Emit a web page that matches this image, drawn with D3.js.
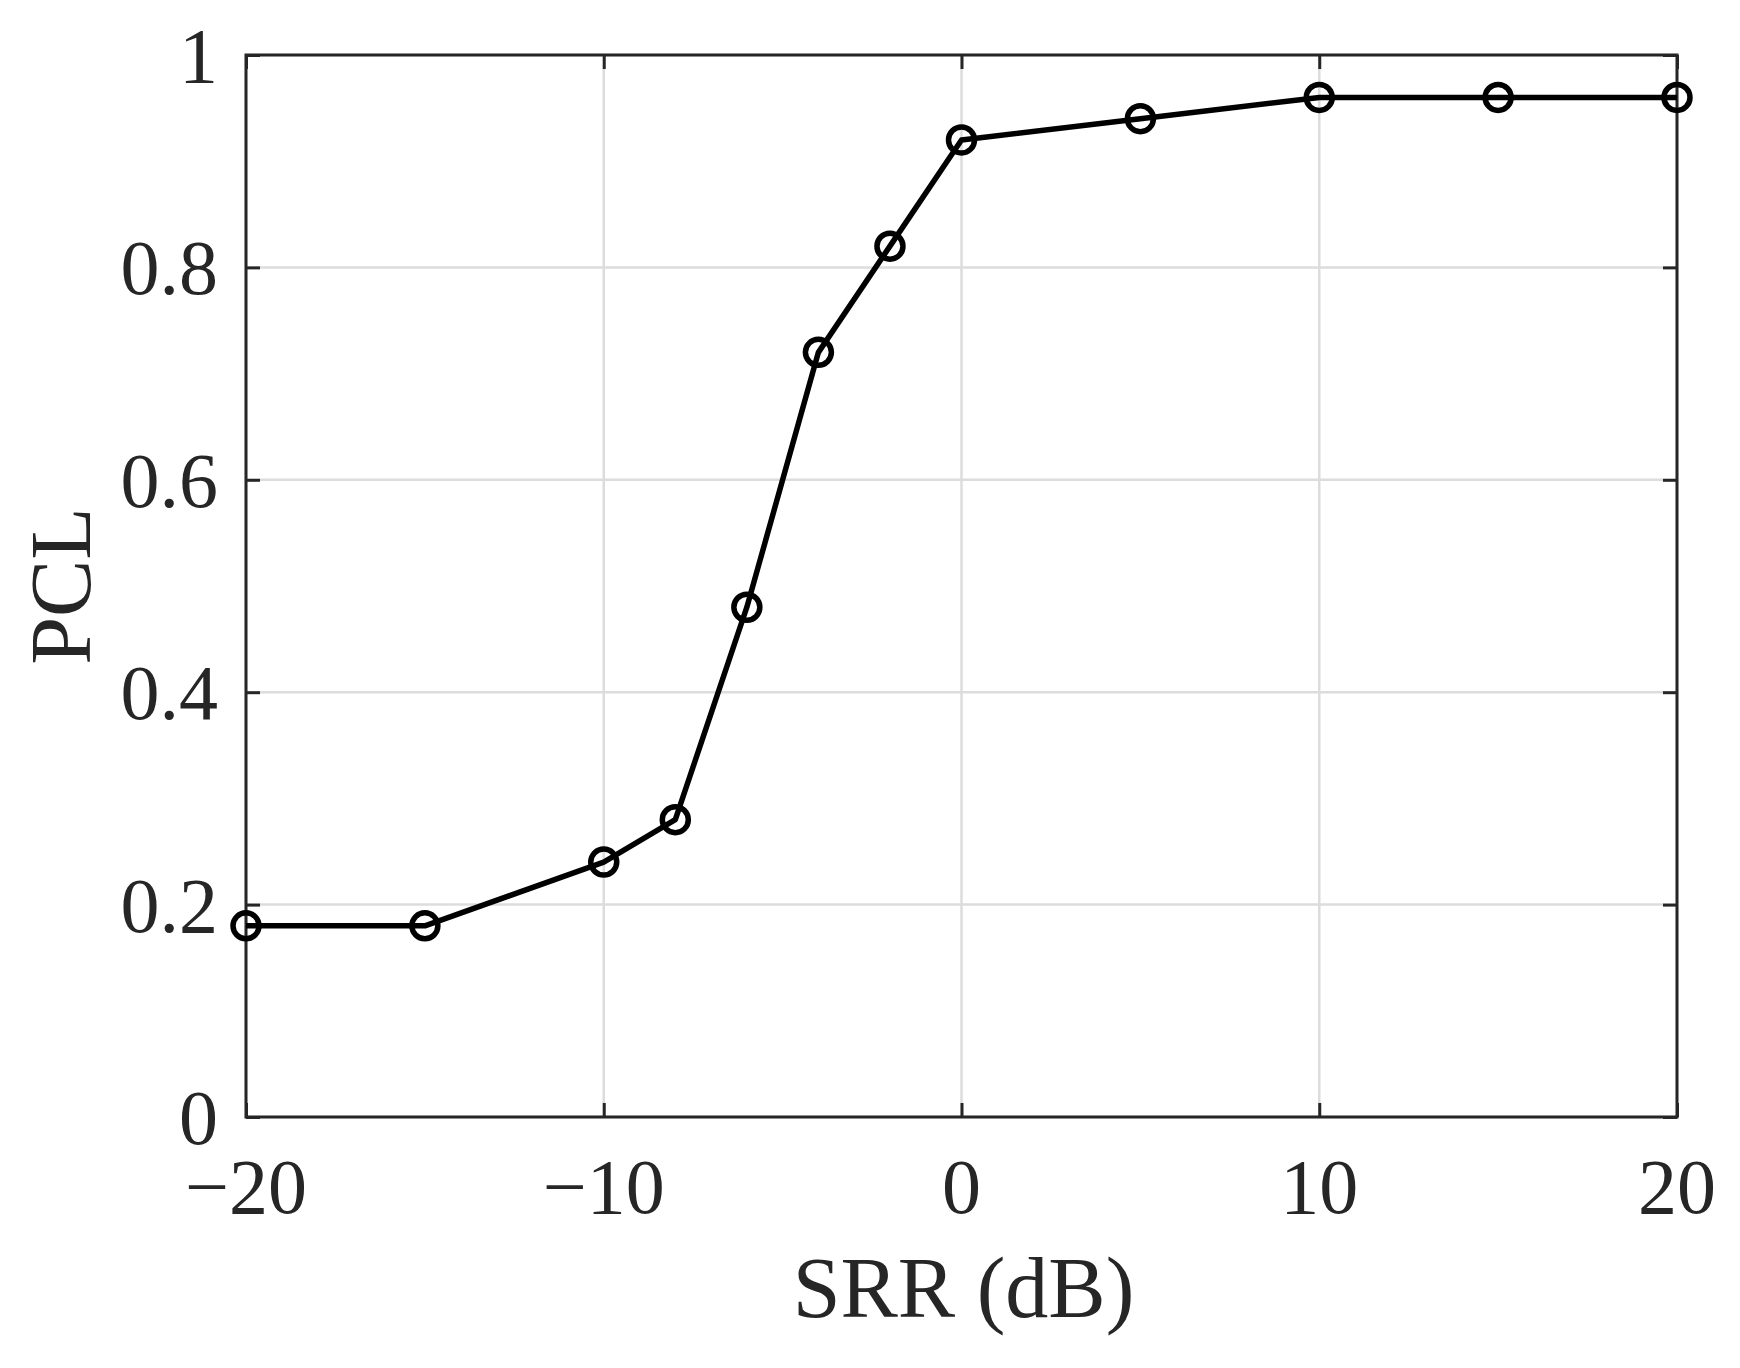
<!DOCTYPE html>
<html><head><meta charset="utf-8">
<script src="https://cdn.jsdelivr.net/npm/d3@7"></script>
<style>html,body{margin:0;padding:0;background:#fff;}</style>
</head><body>
<script>
const srr = [-20, -15, -10, -8, -6, -4, -2, 0, 5, 10, 15, 20];
const pcl = [0.18, 0.18, 0.24, 0.28, 0.48, 0.72, 0.82, 0.92, 0.94, 0.96, 0.96, 0.96];
const xTicks = [-20, -10, 0, 10, 20];
const xTickLabels = ["\u221220", "\u221210", "0", "10", "20"];
const yTicks = [0, 0.2, 0.4, 0.6, 0.8, 1];
const yTickLabels = ["0", "0.2", "0.4", "0.6", "0.8", "1"];
const xLabel = "SRR (dB)";
const yLabel = "PCL";

const W = 1740, H = 1368;
const L = 246, R = 1677, T = 55, B = 1117;
const axisColor = "#262626";
const font = "'Liberation Serif','Times New Roman',serif";

const svg = d3.select("body").append("svg").attr("width", W).attr("height", H);
const x = d3.scaleLinear().domain([-20, 20]).range([L, R]);
const y = d3.scaleLinear().domain([0, 1]).range([B, T]);

// grid
const g = svg.append("g");
g.selectAll(".gx").data(xTicks).join("line")
  .attr("x1", d => x(d)).attr("x2", d => x(d)).attr("y1", T).attr("y2", B)
  .attr("stroke", "#dcdcdc").attr("stroke-width", 2.5);
g.selectAll(".gy").data(yTicks).join("line")
  .attr("y1", d => y(d)).attr("y2", d => y(d)).attr("x1", L).attr("x2", R)
  .attr("stroke", "#dcdcdc").attr("stroke-width", 2.5);

// axes with inward ticks
const tl = 14;
const axB = d3.axisBottom(x).tickValues(xTicks).tickSize(-tl).tickFormat("");
const axT = d3.axisTop(x).tickValues(xTicks).tickSize(-tl).tickFormat("");
const axL = d3.axisLeft(y).tickValues(yTicks).tickSize(-tl).tickFormat("");
const axR = d3.axisRight(y).tickValues(yTicks).tickSize(-tl).tickFormat("");
[[axB, `translate(0,${B})`], [axT, `translate(0,${T})`], [axL, `translate(${L},0)`], [axR, `translate(${R},0)`]].forEach(([ax, tr]) => {
  const a = svg.append("g").attr("transform", tr).call(ax);
  a.select(".domain").remove();
  a.selectAll("line").attr("stroke", axisColor).attr("stroke-width", 3);
});
svg.append("rect").attr("x", L).attr("y", T).attr("width", R - L).attr("height", B - T)
  .attr("fill", "none").attr("stroke", axisColor).attr("stroke-width", 3);

// tick labels
svg.selectAll(".xtl").data(xTicks).join("text")
  .attr("x", d => x(d)).attr("y", 1213).attr("text-anchor", "middle")
  .attr("font-family", font).attr("font-size", 78).attr("fill", axisColor)
  .text((d, i) => xTickLabels[i]);
svg.selectAll(".ytl").data(yTicks).join("text")
  .attr("x", 218).attr("y", d => y(d) + 27).attr("text-anchor", "end")
  .attr("font-family", font).attr("font-size", 78).attr("fill", axisColor)
  .text((d, i) => yTickLabels[i]);

// axis labels
svg.append("text").attr("x", (L + R) / 2 + 2).attr("y", 1317).attr("text-anchor", "middle")
  .attr("font-family", font).attr("font-size", 86).attr("fill", axisColor).text(xLabel);
svg.append("text").attr("transform", `translate(90,${(T + B) / 2}) rotate(-90)`)
  .attr("text-anchor", "middle")
  .attr("font-family", font).attr("font-size", 86).attr("fill", axisColor).text(yLabel);

// line and markers
const data = srr.map((d, i) => ({ x: d, y: pcl[i] }));
svg.append("path").datum(data)
  .attr("d", d3.line().x(d => x(d.x)).y(d => y(d.y)))
  .attr("fill", "none").attr("stroke", "#000").attr("stroke-width", 5.5).attr("stroke-linejoin", "round");
svg.selectAll(".mk").data(data).join("circle")
  .attr("cx", d => x(d.x)).attr("cy", d => y(d.y)).attr("r", 13)
  .attr("fill", "none").attr("stroke", "#000").attr("stroke-width", 5.5);
</script>
</body></html>
